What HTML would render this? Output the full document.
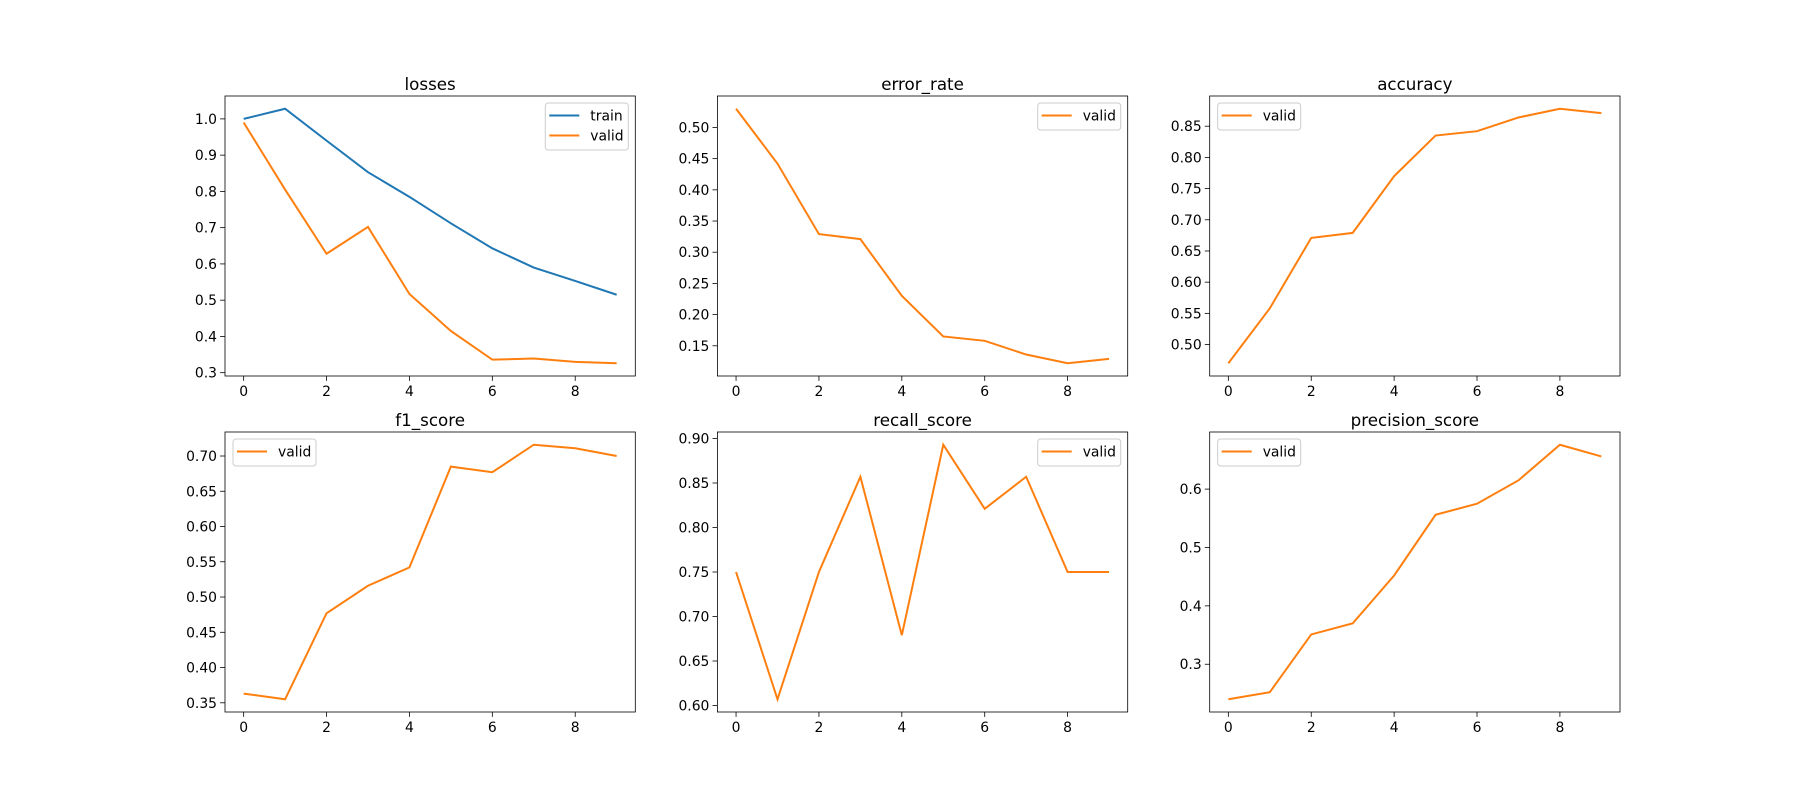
<!DOCTYPE html>
<html><head><meta charset="utf-8"><style>
html,body{margin:0;padding:0;background:#fff;}
svg{display:block;font-family:"DejaVu Sans","Liberation Sans",sans-serif;}
</style></head><body>
<svg id="fig" width="1800" height="800" xmlns="http://www.w3.org/2000/svg"></svg>
<script>
const epochs = [0,1,2,3,4,5,6,7,8,9];
const xTicks = [0,2,4,6,8];
const lossTrain = [1.0,1.028,0.94,0.853,0.785,0.712,0.643,0.59,0.553,0.515];
const lossValid = [0.99,0.805,0.628,0.702,0.517,0.415,0.336,0.339,0.33,0.326];
const errorValid = [0.53,0.442,0.329,0.321,0.23,0.165,0.158,0.136,0.122,0.129];
const accValid = [0.47,0.558,0.671,0.679,0.77,0.835,0.842,0.864,0.878,0.871];
const f1Valid = [0.363,0.355,0.477,0.516,0.542,0.685,0.677,0.716,0.711,0.700];
const recallValid = [0.75,0.607,0.75,0.857,0.679,0.893,0.821,0.857,0.75,0.75];
const precValid = [0.24,0.252,0.351,0.37,0.452,0.556,0.575,0.615,0.676,0.656];
const lossTicks = [0.3,0.4,0.5,0.6,0.7,0.8,0.9,1.0];
const errTicks = [0.15,0.20,0.25,0.30,0.35,0.40,0.45,0.50];
const accTicks = [0.50,0.55,0.60,0.65,0.70,0.75,0.80,0.85];
const f1Ticks = [0.35,0.40,0.45,0.50,0.55,0.60,0.65,0.70];
const recTicks = [0.60,0.65,0.70,0.75,0.80,0.85,0.90];
const precTicks = [0.3,0.4,0.5,0.6];

const NS="http://www.w3.org/2000/svg";
const svg=document.getElementById('fig');
function mk(tag,attrs,parent){const e=document.createElementNS(NS,tag);for(const k in attrs)e.setAttribute(k,attrs[k]);(parent||svg).appendChild(e);return e;}
const W=410.3,H=280;
const panels=[
 {title:'losses',x:225,y:96,series:[['train',lossTrain,'#1f77b4'],['valid',lossValid,'#ff7f0e']],ticks:lossTicks,dec:1,leg:'right'},
 {title:'error_rate',x:717.4,y:96,series:[['valid',errorValid,'#ff7f0e']],ticks:errTicks,dec:2,leg:'right'},
 {title:'accuracy',x:1209.7,y:96,series:[['valid',accValid,'#ff7f0e']],ticks:accTicks,dec:2,leg:'left'},
 {title:'f1_score',x:225,y:432,series:[['valid',f1Valid,'#ff7f0e']],ticks:f1Ticks,dec:2,leg:'left'},
 {title:'recall_score',x:717.4,y:432,series:[['valid',recallValid,'#ff7f0e']],ticks:recTicks,dec:2,leg:'right'},
 {title:'precision_score',x:1209.7,y:432,series:[['valid',precValid,'#ff7f0e']],ticks:precTicks,dec:1,leg:'left'}
];
panels.forEach(p=>{
  const g=mk('g',{});
  
  
  let all=[];p.series.forEach(s=>all=all.concat(s[1]));
  let mn=Math.min(...all),mx=Math.max(...all),r=mx-mn;mn-=0.05*r;mx+=0.05*r;
  const xs=v=>p.x+(v+0.45)/9.9*W;
  const ys=v=>p.y+H-(v-mn)/(mx-mn)*H;
  const t=mk('text',{x:p.x+W/2,y:p.y-6,'text-anchor':'middle','font-size':'16.7',fill:'#000'},g);
  t.textContent=p.title;
  
  
  xTicks.forEach(v=>{const X=xs(v);
    mk('line',{x1:X,x2:X,y1:p.y+H,y2:p.y+H+4.9,stroke:'#000','stroke-width':0.8},g);
    const l=mk('text',{x:X,y:p.y+H+20,'text-anchor':'middle','font-size':'13.9'},g);l.textContent=v;
    
    
  });
  p.ticks.forEach(v=>{const Y=ys(v);
    mk('line',{x1:p.x-4.9,x2:p.x,y1:Y,y2:Y,stroke:'#000','stroke-width':0.8},g);
    const l=mk('text',{x:p.x-8,y:Y+5,'text-anchor':'end','font-size':'13.9'},g);l.textContent=v.toFixed(p.dec);
    
    
  });
  p.series.forEach(s=>{
    const pl=mk('polyline',{points:epochs.map((e,i)=>xs(e)+','+ys(s[1][i])).join(' '),fill:'none',stroke:s[2],'stroke-width':2},g);
    
    
  });
  mk('rect',{x:p.x,y:p.y,width:W,height:H,fill:'none',stroke:'#000','stroke-width':0.8},g);
  const lw=83,lh=7+p.series.length*20;
  const lx=p.leg==='right'?p.x+W-7-lw:p.x+8, ly=p.y+7;
  const lg=mk('g',{},g);
  
  
  mk('rect',{x:lx,y:ly,width:lw,height:lh,rx:3,fill:'#fff','fill-opacity':0.8,stroke:'#ccc','stroke-width':1},lg);
  p.series.forEach((s,i)=>{const cy=ly+12.5+i*20;
    mk('line',{x1:lx+4,x2:lx+34,y1:cy,y2:cy,stroke:s[2],'stroke-width':2},lg);
    const tt=mk('text',{x:lx+45,y:cy+5,'font-size':'13.9'},lg);tt.textContent=s[0];
    
    
  });
});
</script>
</body></html>
